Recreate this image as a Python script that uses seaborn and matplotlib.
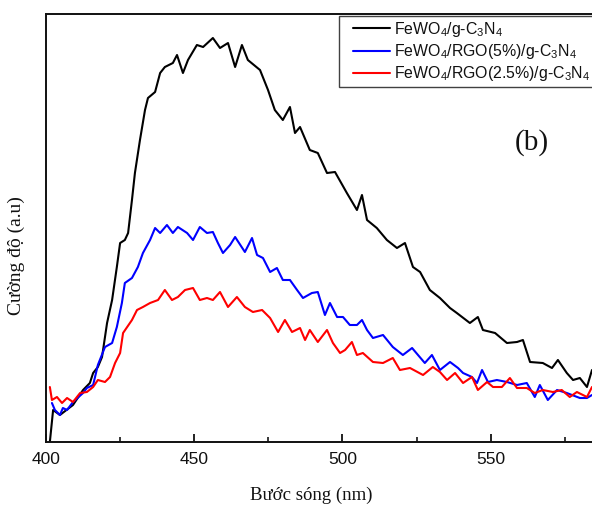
import matplotlib
matplotlib.use("Agg")
import matplotlib.pyplot as plt
import seaborn as sns
import pandas as pd
from matplotlib.legend_handler import HandlerLine2D

# ---------------- data ----------------
black_x = [401.3, 402.4, 404.7, 409.1, 412.5, 414.8, 415.9, 417.5, 418.9, 420.6, 422.3, 423.9,
           425.0, 426.6, 427.7, 429.0, 430.0, 431.7, 433.4, 434.4, 436.8, 438.5, 440.1, 442.8,
           444.2, 446.2, 447.9, 450.9, 453.0, 456.3, 458.7, 461.4, 463.8, 466.1, 468.1, 472.2,
           474.9, 477.2, 479.9, 482.3, 484.0, 485.7, 489.0, 491.7, 494.8, 497.5, 501.5, 504.9,
           506.6, 508.3, 511.6, 515.0, 518.4, 521.1, 523.8, 526.2, 529.5, 532.9, 536.3, 538.6,
           543.0, 545.7, 547.4, 551.5, 555.5, 558.9, 560.9, 563.3, 567.6, 570.7, 572.7, 575.7,
           577.8, 580.1, 582.5, 584.2]
black_y = [1, 33, 28, 38, 53, 60, 70, 76, 86, 120, 143, 176,
           200, 203, 210, 243, 270, 303, 333, 345, 351, 370, 376, 380,
           388, 370, 383, 398, 396, 405, 395, 400, 376, 398, 383, 373,
           353, 333, 323, 336, 310, 316, 293, 290, 270, 271, 250, 233,
           248, 223, 215, 203, 195, 200, 176, 171, 153, 145, 135, 130,
           120, 126, 113, 110, 100, 101, 103, 81, 80, 75, 83, 70,
           63, 65, 56, 73]

blue_x = [402.0, 403.0, 404.7, 405.7, 407.1, 409.1, 412.5, 413.8, 415.9, 417.5, 419.9, 422.3,
          423.9, 425.6, 426.6, 429.0, 431.0, 432.7, 435.1, 436.8, 438.5, 440.8, 442.8, 444.5,
          447.6, 449.6, 451.9, 454.3, 456.3, 458.0, 459.7, 462.1, 463.8, 467.1, 469.5, 471.2,
          473.2, 475.6, 477.9, 479.9, 482.3, 484.7, 486.7, 489.7, 491.7, 494.1, 495.8, 498.2,
          500.2, 502.5, 504.9, 506.6, 508.3, 510.3, 513.7, 517.0, 520.4, 523.5, 525.5, 527.8,
          530.2, 532.9, 536.3, 539.0, 540.7, 543.7, 545.4, 547.1, 549.1, 552.1, 555.5, 558.9,
          562.2, 564.9, 566.6, 569.3, 572.4, 575.7, 580.1, 582.5, 584.2]
blue_y = [40, 33, 28, 35, 33, 41, 50, 55, 58, 78, 96, 100,
          116, 140, 160, 165, 176, 190, 203, 215, 210, 218, 210, 216,
          210, 203, 216, 210, 211, 200, 190, 198, 206, 191, 205, 188,
          185, 171, 175, 163, 163, 153, 145, 150, 151, 128, 140, 126,
          126, 118, 118, 123, 113, 105, 108, 96, 88, 95, 88, 80,
          88, 73, 81, 75, 70, 66, 60, 73, 61, 63, 61, 58,
          60, 46, 58, 43, 53, 50, 45, 45, 48]

red_x = [401.3, 402.0, 403.7, 405.4, 407.1, 409.1, 411.5, 413.8, 415.9, 417.5, 419.9, 421.6,
         423.3, 425.0, 426.0, 429.0, 430.7, 432.7, 435.1, 437.8, 440.1, 442.5, 444.5, 446.9,
         449.6, 451.9, 454.3, 456.3, 458.7, 461.4, 464.4, 467.1, 469.8, 472.9, 475.6, 478.3,
         480.6, 483.0, 485.7, 487.4, 489.0, 491.7, 494.8, 496.8, 499.2, 500.9, 503.2, 504.9,
         506.9, 510.3, 513.7, 517.0, 519.4, 522.8, 527.2, 530.5, 532.9, 535.3, 538.0, 540.7,
         543.7, 545.7, 548.8, 550.8, 553.8, 556.5, 558.9, 562.2, 564.9, 567.6, 571.0, 574.0,
         576.7, 579.1, 582.5, 584.2]
red_y = [56, 43, 46, 40, 45, 41, 50, 51, 56, 63, 61, 66,
         80, 90, 110, 123, 133, 136, 140, 143, 153, 143, 146, 153,
         155, 143, 145, 143, 151, 136, 146, 136, 131, 133, 125, 111,
         123, 111, 115, 103, 113, 101, 113, 100, 90, 93, 101, 88,
         90, 81, 80, 85, 73, 75, 68, 76, 71, 63, 70, 60,
         66, 53, 61, 56, 56, 65, 55, 55, 50, 53, 51, 53,
         46, 51, 46, 56]

labels = [r"FeWO$_4$/g-C$_3$N$_4$",
          r"FeWO$_4$/RGO(5%)/g-C$_3$N$_4$",
          r"FeWO$_4$/RGO(2.5%)/g-C$_3$N$_4$"]
colors = ["#000000", "#0000ff", "#ff0000"]
x_ticks = [400, 450, 500, 550]
x_minor = [425, 475, 525, 575]

# ---------------- style ----------------
sns.set_theme(style="white")
plt.rcParams["font.family"] = ["Liberation Sans", "DejaVu Sans"]
plt.rcParams["mathtext.fontset"] = "custom"
plt.rcParams["mathtext.rm"] = "Liberation Sans"
plt.rcParams["mathtext.it"] = "Liberation Sans:italic"
plt.rcParams["mathtext.bf"] = "Liberation Sans:bold"

fig = plt.figure(figsize=(5.92, 5.07), dpi=100)
ax = fig.add_axes([46 / 592, 65 / 507, 546 / 592, 428.5 / 507])

frames = []
for xs, ys, lab in zip([black_x, blue_x, red_x], [black_y, blue_y, red_y], labels):
    frames.append(pd.DataFrame({"x": xs, "y": ys, "s": lab}))
df = pd.concat(frames, ignore_index=True)

sns.lineplot(data=df, x="x", y="y", hue="s", hue_order=labels,
             palette=dict(zip(labels, colors)), estimator=None, sort=True,
             linewidth=1.5, ax=ax, legend=True)

ax.set_xlim(400, 584.2)
ax.set_ylim(1, 429.5)
ax.set_xticks(x_ticks)
ax.set_xticks(x_minor, minor=True)
ax.set_yticks([])
ax.tick_params(axis="x", which="major", direction="in", length=6, width=1.3,
               labelsize=12.5, pad=7, colors="#111111", bottom=True, top=False)
ax.tick_params(axis="x", which="minor", direction="in", length=3.5, width=1.3,
               bottom=True, top=False)

for side in ["left", "bottom", "top"]:
    ax.spines[side].set_visible(True)
    ax.spines[side].set_color("#111111")
    ax.spines[side].set_linewidth(1.4)
ax.spines["right"].set_visible(False)

ax.set_xlabel("Bước sóng (nm)", family=["Liberation Serif", "DejaVu Serif"],
              fontsize=13.5, color="#111111", va="center")
ax.xaxis.set_label_coords(0.485, -0.124)
ax.set_ylabel("Cường độ (a.u)", family=["Liberation Serif", "DejaVu Serif"],
              fontsize=14, color="#111111", va="center")
ax.yaxis.set_label_coords(-0.055, 0.434)

ax.text(0.890, 0.698, "(b)", transform=ax.transAxes, ha="center", va="center",
        family=["Liberation Serif", "DejaVu Serif"], fontsize=21, color="#111111")


class ShiftedLine(HandlerLine2D):
    """Legend line that starts a little right of the handle box."""
    def create_artists(self, legend, orig_handle, xdescent, ydescent,
                       width, height, fontsize, trans):
        arts = super().create_artists(legend, orig_handle, xdescent, ydescent,
                                      width, height, fontsize, trans)
        line = arts[0]
        yv = list(line.get_ydata())
        x0 = -xdescent
        x1 = -xdescent + width
        line.set_data([x0 + 7.0, x1], [yv[0], yv[0]])
        return arts


handles, _ = ax.get_legend_handles_labels()
leg = ax.legend(handles=handles, labels=labels, loc="upper left",
                bbox_to_anchor=((339 - 46) / 546, 1.0 - 2.5 / 428.5),
                fontsize=11.4, frameon=True, fancybox=False, edgecolor="#111111",
                handlelength=3.0, handletextpad=0.25, borderpad=0.25,
                labelspacing=0.2, borderaxespad=0.0,
                handler_map={h: ShiftedLine() for h in handles})
leg.get_frame().set_linewidth(1.0)
for t in leg.get_texts():
    t.set_color("#111111")

fig.savefig("out.png", dpi=100)
